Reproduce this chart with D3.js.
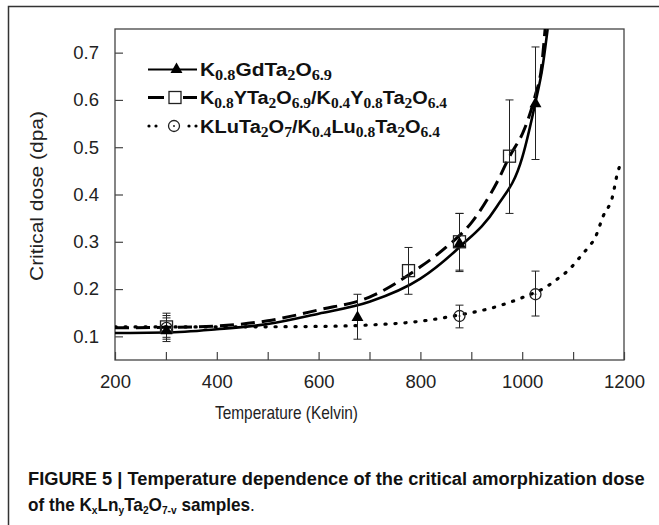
<!DOCTYPE html>
<html>
<head>
<meta charset="utf-8">
<script src="https://cdn.jsdelivr.net/npm/d3@7"></script>
<style>
  body { margin: 0; background: #fff; }
  svg { display: block; font-family: "Liberation Sans", Arial, sans-serif; }
</style>
</head>
<body>
<svg width="659" height="525"></svg>
<script>
// measured points (temperature K, critical dose dpa, error bar low/high)
const gdTemp = [300, 675, 875, 1025];
const gdDose = [0.112, 0.14, 0.296, 0.592];
const gdLow = [0.089, 0.094, 0.237, 0.474];
const gdHigh = [0.139, 0.189, 0.36, 0.712];

const yTemp = [300, 775, 875, 975];
const yDose = [0.12, 0.239, 0.3, 0.481];
const yLow = [0.098, 0.189, 0.24, 0.36];
const yHigh = [0.149, 0.288, 0.36, 0.6];

const luTemp = [300, 875, 1025];
const luDose = [0.118, 0.143, 0.189];
const luLow = [0.094, 0.118, 0.143];
const luHigh = [0.144, 0.166, 0.238];

// fitted curves
const gdFitTemp = [200, 300, 400, 500, 600, 700, 800, 875, 950, 1000, 1025, 1040, 1050];
const gdFitDose = [0.107, 0.108, 0.115, 0.126, 0.148, 0.173, 0.222, 0.287, 0.374, 0.478, 0.59, 0.67, 0.75];

const yFitTemp = [200, 300, 400, 500, 600, 700, 800, 850, 900, 950, 975, 1005, 1025, 1038, 1045];
const yFitDose = [0.118, 0.119, 0.122, 0.133, 0.156, 0.183, 0.247, 0.288, 0.34, 0.425, 0.48, 0.54, 0.607, 0.67, 0.75];

const luFitTemp = [200, 400, 600, 700, 800, 875, 950, 1005, 1048, 1070, 1093, 1110, 1128, 1143, 1159, 1178, 1186, 1195];
const luFitDose = [0.12, 0.12, 0.121, 0.124, 0.132, 0.145, 0.163, 0.184, 0.205, 0.222, 0.242, 0.263, 0.286, 0.308, 0.354, 0.398, 0.44, 0.47];

const tempTicks = [200, 300, 400, 500, 600, 700, 800, 900, 1000, 1100, 1200];
const tempLabels = [200, 400, 600, 800, 1000, 1200];
const doseTicks = [0.1, 0.2, 0.3, 0.4, 0.5, 0.6, 0.7];

// legend labels: [text, subscript?]
const legendGd = [["K", 0], ["0.8", 1], ["GdTa", 0], ["2", 1], ["O", 0], ["6.9", 1]];
const legendY = [["K", 0], ["0.8", 1], ["YTa", 0], ["2", 1], ["O", 0], ["6.9", 1], ["/K", 0], ["0.4", 1], ["Y", 0], ["0.8", 1], ["Ta", 0], ["2", 1], ["O", 0], ["6.4", 1]];
const legendLu = [["KLuTa", 0], ["2", 1], ["O", 0], ["7", 1], ["/K", 0], ["0.4", 1], ["Lu", 0], ["0.8", 1], ["Ta", 0], ["2", 1], ["O", 0], ["6.4", 1]];

const captionLine1 = "FIGURE 5 | Temperature dependence of the critical amorphization dose";
const captionLine2 = [["of the K", 0], ["x", 1], ["Ln", 0], ["y", 1], ["Ta", 0], ["2", 1], ["O", 0], ["7-v", 1], [" samples", 0]];

const svg = d3.select("svg");

// figure frame
svg.append("path")
  .attr("d", "M8.5,525V6.5H659")
  .attr("fill", "none")
  .attr("stroke", "#333")
  .attr("stroke-width", 1.5);

const x = d3.scaleLinear().domain([200, 1200]).range([115, 624]);
const y = d3.scaleLinear().domain([0.05, 0.75]).range([360, 29]);

svg.append("defs").append("clipPath").attr("id", "plot")
  .append("rect")
  .attr("x", 115).attr("y", 29).attr("width", 509).attr("height", 331);

// axes
const xAxis = svg.append("g")
  .attr("transform", "translate(0,360)")
  .call(d3.axisBottom(x)
    .tickValues(tempTicks)
    .tickSize(-8)
    .tickSizeOuter(0)
    .tickPadding(15)
    .tickFormat((d) => (tempLabels.includes(d) ? d : "")));

const yAxis = svg.append("g")
  .attr("transform", "translate(115,0)")
  .call(d3.axisLeft(y)
    .tickValues(doseTicks)
    .tickSize(-8)
    .tickSizeOuter(0)
    .tickPadding(16)
    .tickFormat(d3.format(".1f")));

for (const ax of [xAxis, yAxis]) {
  ax.select(".domain").remove();
  ax.selectAll("line").attr("stroke", "#444").attr("stroke-width", 1.2);
  ax.selectAll("text").attr("fill", "#222").style("font-size", "18.5px").attr("font-family", null);
}

svg.append("rect")
  .attr("x", 115).attr("y", 29).attr("width", 509).attr("height", 331)
  .attr("fill", "none")
  .attr("stroke", "#444")
  .attr("stroke-width", 1.3);

// axis titles
svg.append("text")
  .attr("x", 215)
  .attr("y", 419)
  .attr("textLength", 143)
  .attr("lengthAdjust", "spacingAndGlyphs")
  .attr("fill", "#222")
  .style("font-size", "18.5px")
  .text("Temperature (Kelvin)");

svg.append("text")
  .attr("transform", "translate(43,281) rotate(-90)")
  .attr("textLength", 170)
  .attr("lengthAdjust", "spacingAndGlyphs")
  .attr("fill", "#222")
  .style("font-size", "17.5px")
  .text("Critical dose (dpa)");

// fitted curves
const line = d3.line()
  .x((d) => x(d[0]))
  .y((d) => y(d[1]))
  .curve(d3.curveMonotoneX);

const curves = svg.append("g").attr("clip-path", "url(#plot)");

curves.append("path")
  .datum(d3.zip(luFitTemp, luFitDose))
  .attr("d", line)
  .attr("fill", "none")
  .attr("stroke", "#000")
  .attr("stroke-width", 3.2)
  .attr("stroke-linecap", "round")
  .attr("stroke-dasharray", "1.2,8.8");

curves.append("path")
  .datum(d3.zip(yFitTemp, yFitDose))
  .attr("d", line)
  .attr("fill", "none")
  .attr("stroke", "#000")
  .attr("stroke-width", 3)
  .attr("stroke-dasharray", "14,7");

curves.append("path")
  .datum(d3.zip(gdFitTemp, gdFitDose))
  .attr("d", line)
  .attr("fill", "none")
  .attr("stroke", "#000")
  .attr("stroke-width", 2.6);

// error bars
function errorBars(temps, lows, highs) {
  const g = svg.append("g").attr("stroke", "#222").attr("stroke-width", 1);
  temps.forEach((t, i) => {
    const cx = Math.round(x(t)) + 0.5;
    g.append("line").attr("x1", cx).attr("x2", cx).attr("y1", y(lows[i])).attr("y2", y(highs[i]));
    g.append("line").attr("x1", cx - 4).attr("x2", cx + 4).attr("y1", y(lows[i])).attr("y2", y(lows[i]));
    g.append("line").attr("x1", cx - 4).attr("x2", cx + 4).attr("y1", y(highs[i])).attr("y2", y(highs[i]));
  });
}
errorBars(gdTemp, gdLow, gdHigh);
errorBars(yTemp, yLow, yHigh);
errorBars(luTemp, luLow, luHigh);

// markers
const triangle = d3.symbol(d3.symbolTriangle, 62);

function drawSquare(g, cx, cy) {
  g.append("rect")
    .attr("x", cx - 6).attr("y", cy - 6)
    .attr("width", 12).attr("height", 12)
    .attr("fill", "none").attr("stroke", "#222").attr("stroke-width", 1.3);
}
function drawCircle(g, cx, cy) {
  g.append("circle").attr("cx", cx).attr("cy", cy).attr("r", 5.5)
    .attr("fill", "none").attr("stroke", "#222").attr("stroke-width", 1.3);
  g.append("circle").attr("cx", cx).attr("cy", cy).attr("r", 1).attr("fill", "#222");
}
function drawTriangle(g, cx, cy) {
  g.append("path").attr("d", triangle).attr("transform", `translate(${cx},${cy})`).attr("fill", "#000");
}

const marks = svg.append("g");
luTemp.forEach((t, i) => drawCircle(marks, Math.round(x(t)) + 0.5, y(luDose[i])));
yTemp.forEach((t, i) => drawSquare(marks, Math.round(x(t)) + 0.5, y(yDose[i])));
gdTemp.forEach((t, i) => drawTriangle(marks, Math.round(x(t)) + 0.5, y(gdDose[i])));

// rich text with subscripts
function richText(textSel, parts, subSize, subFamily, shift) {
  let down = false;
  parts.forEach(([s, sub]) => {
    const ts = textSel.append("tspan").text(s);
    if (sub && !down) { ts.attr("dy", shift); down = true; }
    else if (!sub && down) { ts.attr("dy", -shift); down = false; }
    if (sub) {
      ts.style("font-size", subSize + "px");
      if (subFamily) ts.attr("font-family", subFamily);
    }
  });
}

// legend
const legend = svg.append("g").attr("font-weight", "bold").attr("fill", "#111");
const rows = [
  { parts: legendGd, cy: 69.5, len: 132 },
  { parts: legendY, cy: 97.5, len: 247 },
  { parts: legendLu, cy: 126, len: 240 }
];
rows.forEach((r) => {
  const t = legend.append("text")
    .attr("x", 200)
    .attr("y", r.cy + 6.5)
    .attr("textLength", r.len)
    .attr("lengthAdjust", "spacingAndGlyphs")
    .style("font-size", "18px");
  richText(t, r.parts, 14, "'Liberation Serif', 'Times New Roman', serif", 4);
});

// legend samples
legend.append("line")
  .attr("x1", 148).attr("x2", 197).attr("y1", 69.5).attr("y2", 69.5)
  .attr("stroke", "#000").attr("stroke-width", 2);
drawTriangle(legend, 176.5, 69.5);

legend.append("line")
  .attr("x1", 148).attr("x2", 164).attr("y1", 97.5).attr("y2", 97.5)
  .attr("stroke", "#000").attr("stroke-width", 3);
legend.append("line")
  .attr("x1", 183).attr("x2", 197).attr("y1", 97.5).attr("y2", 97.5)
  .attr("stroke", "#000").attr("stroke-width", 3);
drawSquare(legend, 175, 97.5);

[149, 156, 189, 196].forEach((px) => {
  legend.append("circle").attr("cx", px).attr("cy", 126).attr("r", 1.6).attr("fill", "#000");
});
drawCircle(legend, 174, 126);

// caption
const cap1 = svg.append("text")
  .attr("font-weight", "bold")
  .attr("fill", "#111")
  .style("font-size", "18.5px")
  .text(captionLine1);
const sx1 = 617 / cap1.node().getComputedTextLength();
cap1.attr("transform", `translate(28,485) scale(${sx1},1)`);

const cap2 = svg.append("text")
  .attr("font-weight", "bold")
  .attr("fill", "#111")
  .style("font-size", "18.5px");
richText(cap2, captionLine2, 11, null, 3);
cap2.append("tspan").attr("font-weight", "normal").text(".");
const sx2 = 227 / cap2.node().getComputedTextLength();
cap2.attr("transform", `translate(28,511) scale(${sx2},1)`);
</script>
</body>
</html>
